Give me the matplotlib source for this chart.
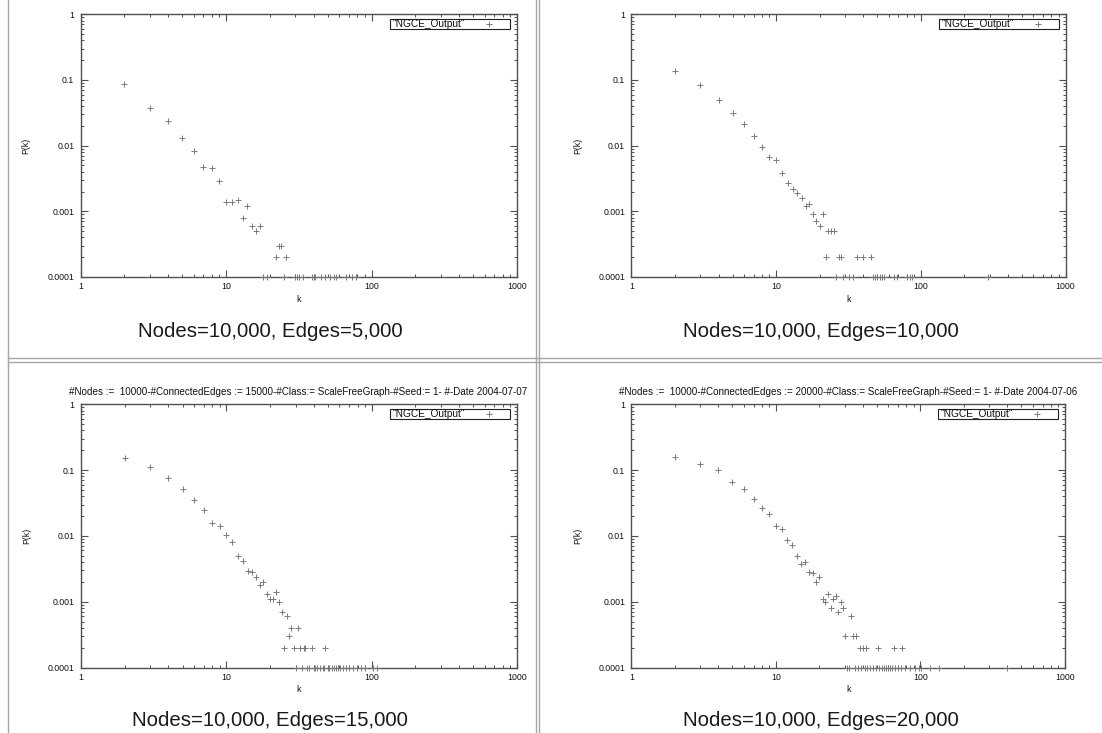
import matplotlib
matplotlib.use("Agg")
import matplotlib.pyplot as plt
from matplotlib.lines import Line2D
from matplotlib.patches import Rectangle
from matplotlib.ticker import LogLocator, NullFormatter, FixedLocator
import numpy as np

plt.rcParams["font.family"] = ["Liberation Sans", "DejaVu Sans"]

# ---- degree distributions P(k) for 10,000-node scale-free graphs ----
# degrees seen more than once (P >= 0.0002)
k_e5000 = [2, 3, 4, 5, 6, 7, 8, 9, 10, 11, 12, 13, 14, 15, 16, 17, 22, 23, 24, 26]
p_e5000 = [0.086, 0.038, 0.0236, 0.0133, 0.0082, 0.0048, 0.0045, 0.0029, 0.0014,
           0.0014, 0.0015, 0.0008, 0.0012, 0.0006, 0.0005, 0.0006, 0.0002, 0.0003,
           0.0003, 0.0002]
# degrees held by a single node (P = 1/10000)
k1_e5000 = [18, 19, 25, 30, 31, 32, 34, 39, 40, 41, 45, 48, 52, 55, 57, 67, 73, 78]

k_e10000 = [2, 3, 4, 5, 6, 7, 8, 9, 10, 11, 12, 13, 14, 15, 16, 17, 18, 19, 20, 21,
            22, 23, 24, 25, 27, 28, 36, 40, 45]
p_e10000 = [0.139, 0.083, 0.049, 0.031, 0.0212, 0.0139, 0.0095, 0.0067, 0.006,
            0.0039, 0.0027, 0.0022, 0.0019, 0.0016, 0.0012, 0.0013, 0.0009, 0.0007,
            0.0006, 0.0009, 0.0002, 0.0005, 0.0005, 0.0005, 0.0002, 0.0002, 0.0002,
            0.0002, 0.0002]
k1_e10000 = [26, 29, 32, 34, 47, 48, 50, 52, 54, 56, 65, 68, 80, 84, 87, 290]

k_e15000 = [2, 3, 4, 5, 6, 7, 8, 9, 10, 11, 12, 13, 14, 15, 16, 17, 18, 19, 20, 21,
            22, 23, 24, 25, 26, 27, 28, 29, 31, 32, 34, 35, 39, 48]
p_e15000 = [0.153, 0.112, 0.076, 0.051, 0.0356, 0.0245, 0.0158, 0.014, 0.0102,
            0.0081, 0.005, 0.0042, 0.0029, 0.0028, 0.0024, 0.0018, 0.002, 0.0013,
            0.0011, 0.0011, 0.0014, 0.001, 0.0007, 0.0002, 0.0006, 0.0003, 0.0004,
            0.0002, 0.0004, 0.0002, 0.0002, 0.0002, 0.0002, 0.0002]
k1_e15000 = [30, 33, 36, 37, 40, 41, 42, 44, 46, 47, 50, 51, 53, 55, 57, 59, 61, 64,
             67, 70, 74, 79, 84, 90, 102, 108]

k_e20000 = [2, 3, 4, 5, 6, 7, 8, 9, 10, 11, 12, 13, 14, 15, 16, 17, 18, 19, 20, 21,
            22, 23, 24, 25, 26, 27, 28, 29, 30, 33, 34, 36, 38, 40, 42, 51, 66, 75]
p_e20000 = [0.158, 0.122, 0.099, 0.0667, 0.051, 0.0363, 0.0268, 0.0212, 0.0139,
            0.0127, 0.0087, 0.0074, 0.005, 0.0037, 0.004, 0.0028, 0.0027, 0.002,
            0.0024, 0.0011, 0.001, 0.0013, 0.0008, 0.0011, 0.0012, 0.0007, 0.001,
            0.0008, 0.0003, 0.0006, 0.0003, 0.0003, 0.0002, 0.0002, 0.0002, 0.0002,
            0.0002, 0.0002]
k1_e20000 = [31, 32, 35, 37, 39, 41, 43, 45, 47, 49, 52, 54, 56, 58, 60, 62, 64, 67,
             70, 73, 78, 84, 91, 97, 101, 116, 135, 400]

single_node_p = 1.0 / 10000

x_ticks = [1, 10, 100, 1000]
x_tick_labels = ["1", "10", "100", "1000"]
y_ticks = [0.0001, 0.001, 0.01, 0.1, 1]
y_tick_labels = ["0.0001", "0.001", "0.01", "0.1", "1"]

legend_label = '"NGCE_Output"'
captions = ["Nodes=10,000, Edges=5,000", "Nodes=10,000, Edges=10,000",
            "Nodes=10,000, Edges=15,000", "Nodes=10,000, Edges=20,000"]
titles = [None, None,
          "#Nodes :=  10000-#ConnectedEdges := 15000-#Class:= ScaleFreeGraph-#Seed:= 1- #-Date 2004-07-07",
          "#Nodes :=  10000-#ConnectedEdges := 20000-#Class:= ScaleFreeGraph-#Seed:= 1- #-Date 2004-07-06"]

series = [(k_e5000, p_e5000, k1_e5000), (k_e10000, p_e10000, k1_e10000),
          (k_e15000, p_e15000, k1_e15000), (k_e20000, p_e20000, k1_e20000)]

W, H = 1102, 733
fig = plt.figure(figsize=(W / 100, H / 100), dpi=100)


def px_rect(left, top, right, bottom):
    return [left / W, 1 - bottom / H, (right - left) / W, (bottom - top) / H]


# plot areas in pixels: (left, top, right, bottom)
boxes = [(80.5, 14.3, 517, 277), (631.4, 14.3, 1065.5, 277),
         (81, 404.3, 517, 667.5), (631.4, 404.3, 1065, 667.5)]
caption_pos = [(270, 331.5), (821, 331.5), (270, 720.5), (821, 720.5)]
title_pos = [None, None, (298, 392), (848, 392)]

frame_col = "#505050"
mark_col = "#737373"
tick_fs = 6.3
mark_kw = dict(linestyle="none", marker="+", markersize=4.3,
               markeredgewidth=0.65, color=mark_col)


def add_key(ax, box):
    """gnuplot-style key box in the top-right corner of the plot area."""
    left, top, right, bottom = box
    w_ax, h_ax = right - left, bottom - top
    bx1 = (right - 7 - left) / w_ax
    bx0 = bx1 - 120 / w_ax
    by1 = 1 - 4.5 / h_ax
    by0 = by1 - 10.5 / h_ax
    ax.add_patch(Rectangle((bx0, by0), bx1 - bx0, by1 - by0, transform=ax.transAxes,
                           facecolor="white", edgecolor="#222222", lw=0.8,
                           zorder=5, clip_on=False))
    ax.text(bx0 + 2.5 / w_ax, (by0 + by1) / 2, legend_label, transform=ax.transAxes,
            fontsize=7.3, color="#111111", ha="left", va="center", zorder=6)
    ax.plot([bx1 - 21 / w_ax], [(by0 + by1) / 2], transform=ax.transAxes,
            zorder=6, clip_on=False, **mark_kw)


for i, (box, (ks, ps, k1)) in enumerate(zip(boxes, series)):
    ax = fig.add_axes(px_rect(*box))
    k_all = list(ks) + list(k1)
    p_all = list(ps) + [single_node_p] * len(k1)
    ax.plot(k_all, p_all, clip_on=False, zorder=3, **mark_kw)
    ax.set_xscale("log")
    ax.set_yscale("log")
    ax.set_xlim(1, 1000)
    ax.set_ylim(1e-4, 1)
    ax.xaxis.set_major_locator(FixedLocator(x_ticks))
    ax.set_xticklabels(x_tick_labels)
    ax.yaxis.set_major_locator(FixedLocator(y_ticks))
    ax.set_yticklabels(y_tick_labels)
    ax.xaxis.set_minor_locator(LogLocator(base=10, subs=np.arange(2, 10)))
    ax.yaxis.set_minor_locator(LogLocator(base=10, subs=np.arange(2, 10)))
    ax.xaxis.set_minor_formatter(NullFormatter())
    ax.yaxis.set_minor_formatter(NullFormatter())
    ax.tick_params(which="both", direction="in", top=True, right=True,
                   color=frame_col, labelsize=tick_fs, labelcolor="#111111")
    ax.tick_params(which="major", length=5, width=0.8)
    ax.tick_params(which="minor", length=2.5, width=0.7)
    ax.tick_params(axis="x", which="major", pad=3.6)
    ax.tick_params(axis="y", which="major", pad=4.5)
    for sp in ax.spines.values():
        sp.set_color(frame_col)
        sp.set_linewidth(1.0)
    ax.set_xlabel("k", fontsize=tick_fs, color="#111111")
    ax.xaxis.set_label_coords(0.5, -0.068)
    ax.set_ylabel("P(k)", fontsize=tick_fs, color="#111111")
    ax.yaxis.set_label_coords(-0.114, 0.5)
    add_key(ax, box)

    cx, cy = caption_pos[i]
    fig.text(cx / W, 1 - cy / H, captions[i], fontsize=14.7, color="#1a1a1a",
             ha="center", va="center")
    if titles[i]:
        tx, ty = title_pos[i]
        fig.text(tx / W, 1 - ty / H, titles[i], fontsize=7.15, color="#111111",
                 ha="center", va="center")

# table cell borders around the four panels
border_col = "#a6a6a6"


def hline(y, x0=8, x1=W):
    fig.add_artist(Line2D([x0 / W, x1 / W], [1 - y / H, 1 - y / H],
                          transform=fig.transFigure, color=border_col, lw=1.0))


def vline(x, y0=0, y1=H):
    fig.add_artist(Line2D([x / W, x / W], [1 - y0 / H, 1 - y1 / H],
                          transform=fig.transFigure, color=border_col, lw=1.0))


vline(8)
vline(536)
vline(539)
hline(358.5)
hline(361.5)

fig.savefig("out.png", dpi=100, facecolor="white")
